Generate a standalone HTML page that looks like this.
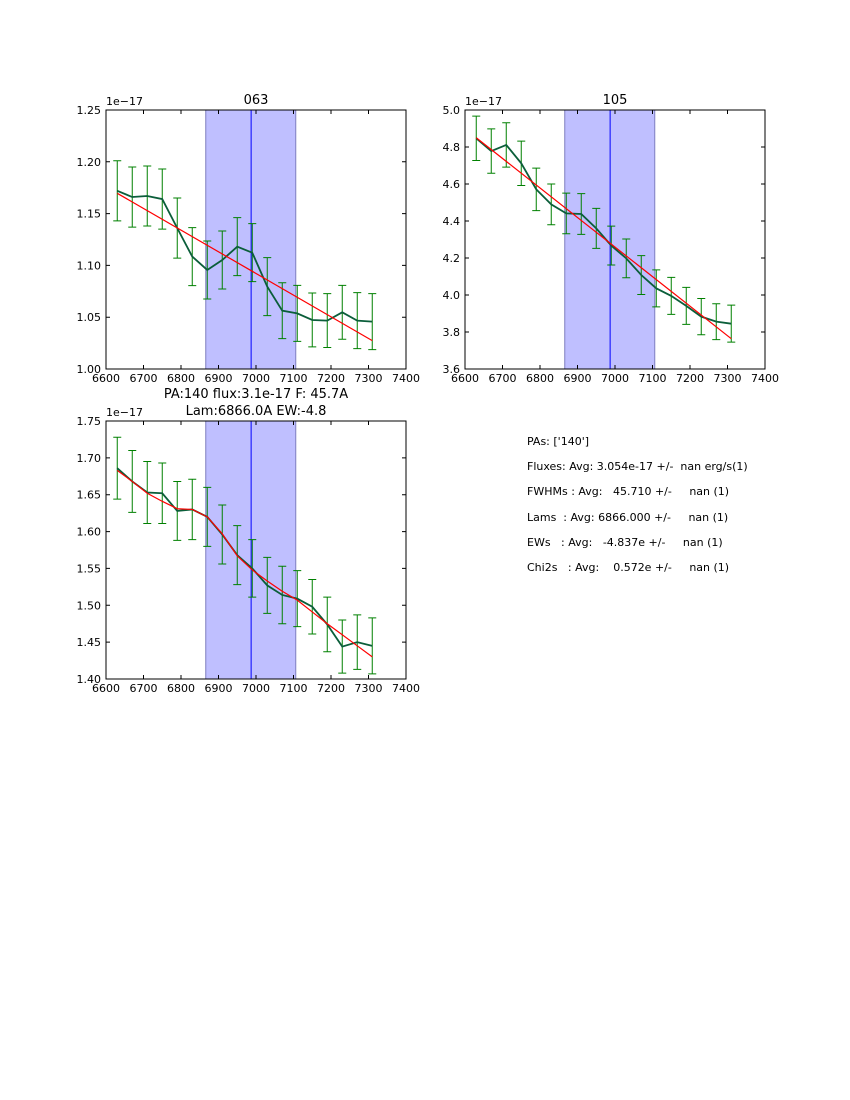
<!DOCTYPE html>
<html><head><meta charset="utf-8"><style>
body{margin:0;background:#fff;width:850px;height:1100px;overflow:hidden;font-family:"DejaVu Sans","Liberation Sans",sans-serif}
#info{position:absolute;left:527px;top:429px;font-size:11px;line-height:25.2px;white-space:pre;color:#000}
svg text{font-family:"DejaVu Sans","Liberation Sans",sans-serif}
</style></head><body>
<svg id="c" width="850" height="1100" style="position:absolute;left:0;top:0"></svg>
<div id="info"><div>PAs: ['140']</div><div>Fluxes: Avg: 3.054e-17 +/-  nan erg/s(1)</div><div>FWHMs : Avg:   45.710 +/-     nan (1)</div><div>Lams  : Avg: 6866.000 +/-     nan (1)</div><div>EWs   : Avg:   -4.837e +/-     nan (1)</div><div>Chi2s   : Avg:    0.572e +/-     nan (1)</div></div>
<script>
const waves=[6630,6670,6710,6750,6790,6830,6870,6910,6950,6990,7030,7070,7110,7150,7190,7230,7270,7310];
const xTicks=[6600,6700,6800,6900,7000,7100,7200,7300,7400];
const shadeRange=[6866,7106];
const lineCenter=6987;
const flux063=[1.172,1.166,1.167,1.164,1.136,1.1085,1.0956,1.1052,1.1181,1.1123,1.0795,1.0563,1.0537,1.0473,1.0467,1.0547,1.0467,1.0457];
const err063=[0.029,0.029,0.029,0.029,0.029,0.028,0.028,0.028,0.028,0.028,0.028,0.027,0.027,0.026,0.026,0.026,0.027,0.027];
const fit063=[1.1696,1.0274];
const yTicks063=["1.00","1.05","1.10","1.15","1.20","1.25"];
const flux105=[4.847,4.778,4.811,4.712,4.571,4.490,4.441,4.438,4.360,4.267,4.198,4.108,4.036,3.995,3.941,3.883,3.856,3.845];
const err105=[0.12,0.12,0.12,0.12,0.115,0.11,0.11,0.11,0.108,0.105,0.105,0.105,0.1,0.1,0.1,0.098,0.097,0.1];
const fit105=[4.850,3.764];
const yTicks105=["3.6","3.8","4.0","4.2","4.4","4.6","4.8","5.0"];
const flux140=[1.686,1.668,1.653,1.652,1.628,1.630,1.620,1.596,1.568,1.550,1.527,1.514,1.509,1.498,1.474,1.444,1.450,1.445];
const err140=[0.042,0.042,0.042,0.041,0.04,0.041,0.04,0.04,0.04,0.039,0.038,0.039,0.038,0.037,0.037,0.036,0.037,0.038];
const model140=[1.683,1.668,1.652,1.641,1.631,1.630,1.620,1.597,1.567,1.548,1.533,1.519,1.507,1.491,1.475,1.460,1.445,1.430];
const yTicks140=["1.40","1.45","1.50","1.55","1.60","1.65","1.70","1.75"];

const svg=document.getElementById('c');const NS='http://www.w3.org/2000/svg';
function mk(t,a,p){const e=document.createElementNS(NS,t);for(const k in a)e.setAttribute(k,a[k]);(p||svg).appendChild(e);return e;}
function panel(name,L,T,W,H,yt,flux,err,fitY,model,titleLines){
  const g=mk('g',{});
  
  
  const x0=6600,x1=7400,y0=+yt[0],y1=+yt[yt.length-1];
  const X=v=>L+(v-x0)/(x1-x0)*W, Y=v=>T+H-(v-y0)/(y1-y0)*H;
  const sh=mk('rect',{x:X(shadeRange[0]),y:T,width:X(shadeRange[1])-X(shadeRange[0]),height:H,fill:'#bfbfff',stroke:'#7f7fbf','stroke-width':1},g);
  
  
  const vl=mk('line',{x1:X(lineCenter),x2:X(lineCenter),y1:T,y2:T+H,stroke:'#0000ff','stroke-width':1},g);
  
  
  waves.forEach((w,i)=>{const x=X(w),a=Y(flux[i]+err[i]),b=Y(flux[i]-err[i]);
    const e=mk('path',{d:`M${x},${a}V${b}M${x-4},${a}H${x+4}M${x-4},${b}H${x+4}`,stroke:'#008000','stroke-width':1,fill:'none'},g);
    
    });
  const dl=mk('polyline',{points:waves.map((w,i)=>X(w)+','+Y(flux[i])).join(' '),fill:'none',stroke:'#0b5e3a','stroke-width':1.8},g);
  
  
  let fp;
  if(model) fp=waves.map((w,i)=>X(w)+','+Y(model[i])).join(' ');
  else fp=X(waves[0])+','+Y(fitY[0])+' '+X(waves[waves.length-1])+','+Y(fitY[1]);
  const fl=mk('polyline',{points:fp,fill:'none',stroke:'#ff0000','stroke-width':1.2},g);
  
  
  mk('rect',{x:L,y:T,width:W,height:H,fill:'none',stroke:'#000','stroke-width':1},g);
  xTicks.forEach(v=>{const x=X(v);mk('path',{d:`M${x},${T+H}v-4M${x},${T}v4`,stroke:'#000'},g);
    const t=mk('text',{x:x,y:T+H+13,'font-size':11,'text-anchor':'middle'},g);t.textContent=v;
    
    });
  yt.forEach(s=>{const y=Y(+s);mk('path',{d:`M${L},${y}h4M${L+W},${y}h-4`,stroke:'#000'},g);
    const t=mk('text',{x:L-5,y:y+4,'font-size':11,'text-anchor':'end'},g);t.textContent=s;
    
    });
  const o=mk('text',{x:L,y:T-5,'font-size':11},g);o.textContent='1e\u221217';
  
  
  titleLines.forEach((s,i)=>{const t=mk('text',{x:L+W/2,y:T-6-(titleLines.length-1-i)*17,'font-size':13,'text-anchor':'middle'},g);t.textContent=s;
    
    });
}
panel('panel-063',106,110,300,259,yTicks063,flux063,err063,fit063,null,['063']);
panel('panel-105',465,110,300,259,yTicks105,flux105,err105,fit105,null,['105']);
panel('panel-140',106,421,300,258,yTicks140,flux140,err140,null,model140,['PA:140 flux:3.1e-17 F: 45.7A','Lam:6866.0A EW:-4.8']);
</script>
</body></html>
